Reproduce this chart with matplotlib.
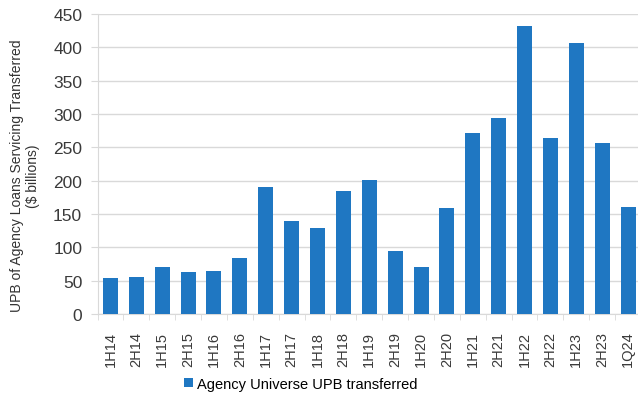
import numpy as np
import matplotlib
matplotlib.use('Agg')
import matplotlib.pyplot as plt

periods = ['1H14', '2H14', '1H15', '2H15', '1H16', '2H16', '1H17', '2H17', '1H18', '2H18',
           '1H19', '2H19', '1H20', '2H20', '1H21', '2H21', '1H22', '2H22', '1H23', '2H23', '1Q24']
upb = [54, 55, 71, 63, 65, 84, 191, 139, 129, 184,
       201, 94, 70, 159, 272, 294, 432, 264, 407, 256, 160]
yticks = [0, 50, 100, 150, 200, 250, 300, 350, 400, 450]

bar_color = '#1f77c2'
grid_color = '#d9d9d9'

fig = plt.figure(figsize=(6.38, 4.02), dpi=100)
ax = fig.add_axes([97.5 / 638, 87 / 402, 543.5 / 638, 300 / 402])

x = np.arange(len(periods))
ax.bar(x, upb, width=0.58, color=bar_color, label='Agency Universe UPB transferred', zorder=3)

ax.set_xlim(-0.5, len(periods) - 0.5)
ax.set_ylim(0, 450)
ax.set_yticks(yticks)
ax.set_yticklabels([str(t) for t in yticks], fontsize=12.5, family='Liberation Sans', color='#3a3a3a')
ax.set_xticks(x)
ax.set_xticklabels(periods, rotation=90, fontsize=10.5, family='Liberation Sans', color='#3a3a3a')
ax.set_xticks(np.arange(len(periods) + 1) - 0.5, minor=True)
ax.tick_params(axis='x', which='major', length=0, pad=12)
ax.tick_params(axis='x', which='minor', length=4, color=grid_color)
ax.tick_params(axis='y', length=5, color=grid_color, pad=6)

ax.grid(axis='y', color=grid_color, linewidth=1, zorder=0)
for s in ['top', 'right']:
    ax.spines[s].set_visible(False)
ax.spines['left'].set_color(grid_color)
ax.spines['bottom'].set_color(grid_color)

ax.set_ylabel('UPB of Agency Loans Servicing Transferred\n($ billions)', fontsize=10,
              family='Liberation Sans', color='#333333')
ax.yaxis.set_label_coords(-0.106, 0.463)

fig.legend(loc='center', bbox_to_anchor=(301 / 638, 1 - 385 / 402), frameon=False,
           prop={'family': 'Liberation Sans', 'size': 10.5},
           handlelength=0.6, handleheight=0.6, handletextpad=0.3)

fig.savefig('out.png', dpi=100)
